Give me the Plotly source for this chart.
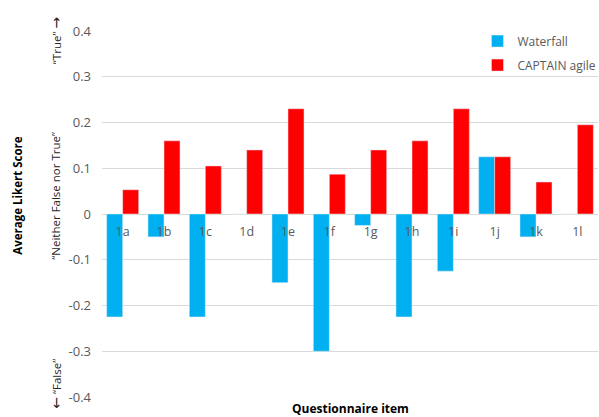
import plotly.graph_objects as go

# Questionnaire items and average Likert scores per method
items = ["1a", "1b", "1c", "1d", "1e", "1f", "1g", "1h", "1i", "1j", "1k", "1l"]
waterfall = [-0.225, -0.05, -0.225, 0.0, -0.15, -0.30, -0.025, -0.225, -0.125, 0.125, -0.05, 0.0]
captain_agile = [0.053, 0.16, 0.105, 0.14, 0.23, 0.087, 0.14, 0.16, 0.23, 0.125, 0.07, 0.195]

y_ticks = [-0.4, -0.3, -0.2, -0.1, 0, 0.1, 0.2, 0.3, 0.4]
y_tick_text = ["-0.4", "-0.3", "-0.2", "-0.1", "0", "0.1", "0.2", "0.3", "0.4"]

FONT = "Open Sans"
GRAY = "#595959"
GRID = "#d9d9d9"
ARROW = "<span style='font-family:DejaVu Sans;font-size:14px'>{}</span>"

fig = go.Figure()
fig.add_trace(go.Bar(x=items, y=waterfall, name="Waterfall", marker_color="#00B0F0",
                     legendgroup="waterfall"))
fig.add_trace(go.Bar(x=items, y=captain_agile, name="CAPTAIN agile", marker_color="#FF0000",
                     legendgroup="captain"))

fig.update_layout(
    width=599, height=417,
    margin=dict(l=102, r=1, t=31, b=20, autoexpand=False),
    plot_bgcolor="white", paper_bgcolor="white",
    barmode="group", bargap=0.225, bargroupgap=0,
    font=dict(family=FONT, size=12, color=GRAY),
    legend=dict(x=0.757, y=1.012, xanchor="left", yanchor="top",
                font=dict(family=FONT, size=12, color=GRAY),
                bgcolor="rgba(0,0,0,0)", itemwidth=30, tracegroupgap=5),
    xaxis=dict(anchor="free", position=0.5, showline=False, showgrid=False,
               ticks="", ticklabelstandoff=8, layer="above traces",
               tickfont=dict(family=FONT, size=12.5, color=GRAY),
               range=[-0.5, 11.5]),
    yaxis=dict(range=[-0.4, 0.4], tickvals=y_ticks, ticktext=y_tick_text,
               showgrid=True, gridcolor=GRID, gridwidth=1,
               zeroline=True, zerolinecolor=GRID, zerolinewidth=1,
               showline=False, ticks="", ticklabelstandoff=10,
               tickfont=dict(family=FONT, size=13, color=GRAY)),
)

annotations = [
    dict(text="<b>Average Likert Score</b>", x=0, xref="paper", xshift=-84, y=0.04, yref="y",
         textangle=-90, font=dict(family=FONT, size=11.5, color="#000000")),
    dict(text="\u201cNeither False nor True\u201d", x=0, xref="paper", xshift=-46, y=0.04, yref="y",
         textangle=-90, font=dict(family=FONT, size=11.5, color="#262626")),
    dict(text="\u201cTrue\u201d " + ARROW.format("\u2192"), x=0, xref="paper", xshift=-46, y=0.38,
         yref="y", textangle=-90, font=dict(family=FONT, size=11.5, color="#262626")),
    dict(text=ARROW.format("\u2190") + " \u201cFalse\u201d", x=0, xref="paper", xshift=-46, y=-0.371,
         yref="y", textangle=-90, font=dict(family=FONT, size=11.5, color="#262626")),
    dict(text="<b>Questionnaire item</b>", x=0.5, xref="paper", y=0, yref="paper", yshift=-11,
         yanchor="middle", font=dict(family=FONT, size=12, color="#000000")),
]
for a in annotations:
    a.update(showarrow=False, xanchor="center")
fig.update_layout(annotations=annotations)

fig.write_html("out.html")
